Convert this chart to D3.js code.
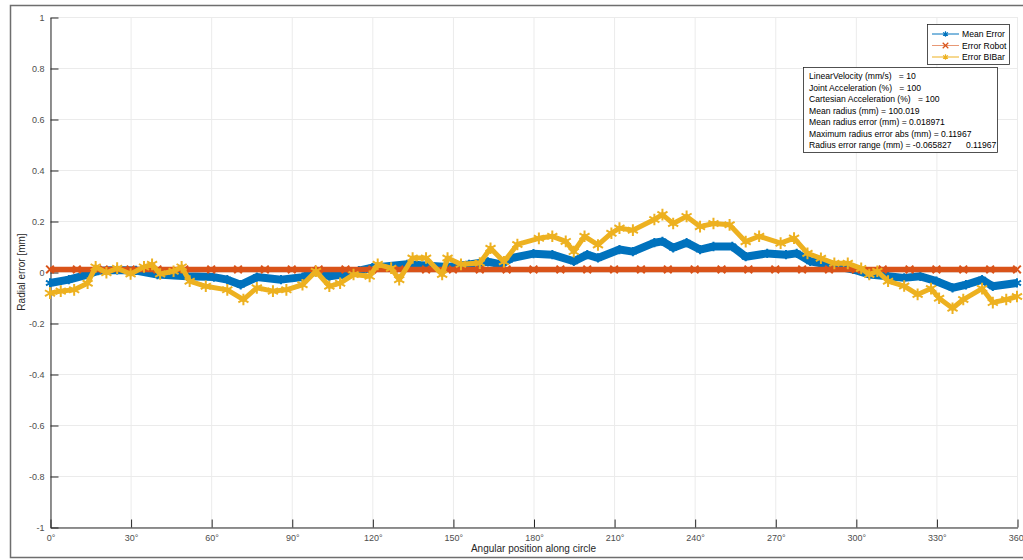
<!DOCTYPE html>
<html>
<head>
<meta charset="utf-8">
<title>Radial error</title>
<style>
  body { margin: 0; background: #fff; }
  text { font-family: "Liberation Sans", Arial, sans-serif; }
  .tick text { fill: #4d4d4d; font-size: 9px; }
  .note { font-size: 8.6px; fill: #000; white-space: pre; }
</style>
</head>
<body>
<svg id="chart" width="1023" height="560"></svg>
<script src="https://d3js.org/d3.v7.min.js"></script>
<script>
// ---- data ----
const meanAngles = [0, 7, 14, 18, 25, 32, 40, 51, 61, 66, 71, 77, 86, 94, 99, 104, 109, 115, 120, 133, 141, 148, 156, 163, 168, 172, 180, 187, 195, 200, 204, 212, 217, 225, 228, 232, 237, 242, 247, 254, 259, 267, 274, 278, 283, 289, 299, 305, 312, 318, 324, 330, 336, 341, 347, 351, 360];
const meanError = [-0.043, -0.030, -0.010, 0.005, 0.008, 0.006, -0.010, -0.017, -0.020, -0.030, -0.050, -0.020, -0.030, -0.020, 0.003, -0.017, -0.010, 0.005, 0.017, 0.030, 0.025, 0.020, 0.030, 0.040, 0.030, 0.055, 0.072, 0.068, 0.042, 0.068, 0.055, 0.088, 0.080, 0.115, 0.120, 0.095, 0.115, 0.088, 0.100, 0.100, 0.060, 0.073, 0.068, 0.073, 0.042, 0.030, 0.010, -0.010, -0.017, -0.023, -0.017, -0.036, -0.062, -0.050, -0.030, -0.056, -0.043];

const robotAngles = [0, 10, 20, 30, 40, 50, 60, 70, 80, 90, 100, 110, 120, 130, 140, 150, 160, 170, 180, 190, 200, 210, 220, 230, 240, 250, 260, 270, 280, 290, 300, 310, 320, 330, 340, 350, 360];
const robotError = [0.010, 0.010, 0.010, 0.010, 0.010, 0.010, 0.010, 0.010, 0.010, 0.010, 0.010, 0.010, 0.010, 0.010, 0.010, 0.010, 0.010, 0.010, 0.010, 0.010, 0.010, 0.010, 0.010, 0.010, 0.010, 0.010, 0.010, 0.010, 0.010, 0.010, 0.010, 0.010, 0.010, 0.010, 0.010, 0.010, 0.010];

const bibarAngles = [0, 4, 9, 14, 17, 21, 25, 30, 35, 38, 41, 46, 49, 52, 58, 66, 72, 77, 83, 88, 94, 99, 104, 108, 113, 119, 122, 127, 130, 135, 140, 146, 148, 153, 160, 164, 169, 174, 182, 187, 192, 195, 199, 204, 209, 212, 217, 225, 228, 232, 237, 242, 247, 253, 259, 264, 272, 277, 282, 287, 292, 297, 302, 305, 308, 312, 318, 323, 328, 331, 336, 340, 347, 351, 356, 360];
const bibarError = [-0.083, -0.075, -0.070, -0.044, 0.020, -0.003, 0.015, -0.008, 0.020, 0.030, -0.008, 0.003, 0.020, -0.036, -0.056, -0.070, -0.108, -0.062, -0.075, -0.070, -0.050, 0.003, -0.056, -0.044, -0.010, -0.017, 0.030, 0.015, -0.030, 0.055, 0.055, -0.010, 0.055, 0.030, 0.035, 0.093, 0.040, 0.108, 0.132, 0.140, 0.120, 0.080, 0.140, 0.106, 0.152, 0.172, 0.164, 0.206, 0.225, 0.190, 0.218, 0.178, 0.190, 0.185, 0.119, 0.140, 0.113, 0.133, 0.073, 0.054, 0.034, 0.034, 0.014, -0.010, 0.003, -0.036, -0.055, -0.088, -0.065, -0.103, -0.142, -0.108, -0.065, -0.120, -0.108, -0.096];

const xTicks = [0, 30, 60, 90, 120, 150, 180, 210, 240, 270, 300, 330, 360];
const yTicks = [-1, -0.8, -0.6, -0.4, -0.2, 0, 0.2, 0.4, 0.6, 0.8, 1];
const seriesNames = ['Mean Error', 'Error Robot', 'Error BIBar'];
const noteLines = [
  'LinearVelocity (mm/s)   = 10',
  'Joint Acceleration (%)   = 100',
  'Cartesian Acceleration (%)   = 100',
  'Mean radius (mm) = 100.019',
  'Mean radius error (mm) = 0.018971',
  'Maximum radius error abs (mm) = 0.11967',
  'Radius error range (mm) = -0.065827      0.11967'
];

// ---- layout ----
const svg = d3.select('#chart');
const plotLeft = 50, plotRight = 1017, plotTop = 17, plotBottom = 527;

const x = d3.scaleLinear().domain([0, 360]).range([plotLeft, plotRight]);
const y = d3.scaleLinear().domain([-1, 1]).range([plotBottom, plotTop]);

// outer figure frame
svg.append('path')
  .attr('d', 'M1023,5.5 H10.5 V557.5 H1023')
  .attr('fill', 'none')
  .attr('stroke', '#6e6e6e')
  .attr('stroke-width', 1.5);

// grid
const grid = svg.append('g').attr('stroke', '#ebebeb').attr('stroke-width', 1);
grid.selectAll('.gx').data(xTicks).enter().append('line')
  .attr('x1', d => x(d) + 0.5).attr('x2', d => x(d) + 0.5)
  .attr('y1', plotTop).attr('y2', plotBottom);
grid.selectAll('.gy').data(yTicks).enter().append('line')
  .attr('x1', plotLeft).attr('x2', plotRight)
  .attr('y1', d => y(d) + 0.5).attr('y2', d => y(d) + 0.5);

// axes (ticks pointing inward)
const xAxis = svg.append('g')
  .attr('transform', `translate(0.5, ${plotBottom + 0.5})`)
  .call(d3.axisBottom(x).tickValues(xTicks).tickFormat(d => d + '°').tickSizeInner(-8).tickSizeOuter(0).tickPadding(12));
const yAxis = svg.append('g')
  .attr('transform', `translate(${plotLeft + 0.5}, 0.5)`)
  .call(d3.axisLeft(y).tickValues(yTicks).tickFormat(d => d).tickSizeInner(-8).tickSizeOuter(0).tickPadding(6));
[xAxis, yAxis].forEach(a => {
  a.select('.domain').attr('stroke', '#262626');
  a.selectAll('.tick line').attr('stroke', '#262626');
});
xAxis.selectAll('.tick text').attr('dy', '0.2em');

svg.append('text')
  .attr('transform', `translate(25, ${(plotTop + plotBottom) / 2}) rotate(-90)`)
  .attr('text-anchor', 'middle')
  .attr('font-size', 10)
  .attr('fill', '#262626')
  .text('Radial error [mm]');
svg.append('text')
  .attr('x', (plotLeft + plotRight) / 2).attr('y', 552)
  .attr('text-anchor', 'middle')
  .attr('font-size', 10)
  .attr('fill', '#262626')
  .text('Angular position along circle');

// series
const series = [
  {name: seriesNames[0], ang: meanAngles, val: meanError, color: '#0072BD', width: 8, sym: d3.symbolAsterisk, size: 60},
  {name: seriesNames[1], ang: robotAngles, val: robotError, color: '#D95319', width: 5.5, sym: d3.symbolTimes, size: 40},
  {name: seriesNames[2], ang: bibarAngles, val: bibarError, color: '#EDB120', width: 5, sym: d3.symbolAsterisk, size: 95}
];

const plot = svg.append('g');
series.forEach(s => {
  const pts = s.ang.map((a, i) => [a, s.val[i]]);
  const line = d3.line().x(d => x(d[0])).y(d => y(d[1]));
  plot.append('path')
    .datum(pts)
    .attr('d', line)
    .attr('fill', 'none')
    .attr('stroke', s.color)
    .attr('stroke-width', s.width)
    .attr('stroke-linejoin', 'round');
  plot.selectAll(null)
    .data(pts)
    .enter()
    .append('path')
    .attr('transform', d => `translate(${x(d[0])}, ${y(d[1])})`)
    .attr('d', d3.symbol(s.sym, s.size))
    .attr('fill', 'none')
    .attr('stroke', s.color)
    .attr('stroke-width', 2);
});

// legend
const legend = svg.append('g').attr('transform', 'translate(927, 24)');
legend.append('rect')
  .attr('x', 0.5).attr('y', 0.5).attr('width', 82).attr('height', 40)
  .attr('fill', '#fff').attr('stroke', '#262626').attr('stroke-width', 0.8);
series.forEach((s, i) => {
  const item = legend.append('g').attr('transform', `translate(0, ${10 + i * 11.5})`);
  item.append('line')
    .attr('x1', 5).attr('x2', 32)
    .attr('stroke', s.color).attr('stroke-width', 1)
    .attr('stroke-opacity', i === 1 ? 0.6 : 1);
  item.append('path')
    .attr('transform', 'translate(18.5, 0)')
    .attr('d', d3.symbol(s.sym, 22))
    .attr('fill', 'none').attr('stroke', s.color).attr('stroke-width', 1.2);
  item.append('text')
    .attr('x', 35).attr('dy', '0.35em')
    .attr('font-size', 8.6)
    .attr('fill', '#000')
    .text(s.name);
});

// annotation box
const note = svg.append('g').attr('transform', 'translate(803, 67)');
note.append('rect')
  .attr('x', 0.5).attr('y', 0.5).attr('width', 194).attr('height', 85)
  .attr('fill', '#fff').attr('stroke', '#262626').attr('stroke-width', 0.8);
note.selectAll('text')
  .data(noteLines)
  .enter()
  .append('text')
  .attr('class', 'note')
  .attr('x', 6)
  .attr('y', (d, i) => 12 + i * 11.5)
  .text(d => d);
</script>
</body>
</html>
